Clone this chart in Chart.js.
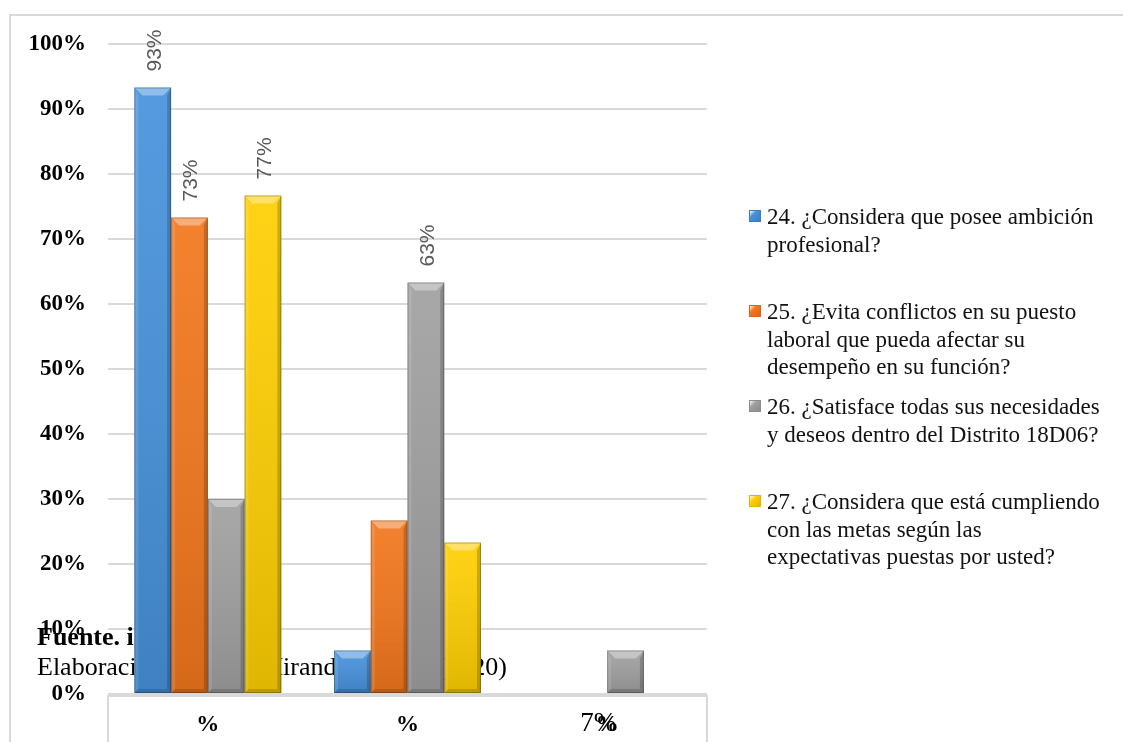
<!DOCTYPE html>
<html>
<head>
<meta charset="utf-8">
<script src="https://cdn.jsdelivr.net/npm/chart.js@4/dist/chart.umd.min.js"></script>
<style>
  body { margin: 0; background: #fff; }
  #wrap { position: relative; width: 1123px; height: 742px; overflow: hidden; }
  #legend { position: absolute; left: 749px; top: 203px; font-family: "Liberation Serif", "Times New Roman", serif; font-size: 23px; line-height: 27.5px; color: #111; }
  .item { position: relative; height: 95px; white-space: nowrap; }
  .swatch { position: absolute; left: 0; top: 7px; width: 12px; height: 12px; box-sizing: border-box; }
  .text { position: absolute; left: 18px; top: 0; }
</style>
</head>
<body>
<div id="wrap">
  <canvas id="my-chart" width="1123" height="742"></canvas>
  <div id="legend"></div>
</div>
<script>
const categories = ["%", "%", "%"];

const names = [
  ["24. ¿Considera que posee ambición", "profesional?"],
  ["25. ¿Evita conflictos en su puesto", "laboral que pueda afectar su", "desempeño en su función?"],
  ["26. ¿Satisface todas sus necesidades", "y deseos dentro del Distrito 18D06?"],
  ["27. ¿Considera que está cumpliendo", "con las metas según las", "expectativas puestas por usted?"],
];

const ambicion = [93.3, 6.7, 0];
const conflictos = [73.3, 26.7, 0];
const satisface = [30.0, 63.3, 6.7];
const metas = [76.7, 23.3, 0];

// which bars carry a value label in the original
const showAmbicion = [true, false, false];
const showConflictos = [true, false, false];
const showSatisface = [false, true, false];
const showMetas = [true, false, false];

const yTicks = [0, 10, 20, 30, 40, 50, 60, 70, 80, 90, 100];

const colors = ["#4792dc", "#f2771d", "#a0a0a0", "#fecf02"];
const swatchColors = ["#3a7fc4", "#d9661c", "#8c8c8c", "#e3b400"];

const serif = '"Liberation Serif", "Times New Roman", serif';

// frame, x axis box and the stray document text behind the bars
const backdrop = {
  id: "backdrop",
  beforeDraw(chart) {
    const ctx = chart.ctx;
    ctx.save();
    ctx.strokeStyle = "#d9d9d9";
    ctx.lineWidth = 2;
    ctx.beginPath();
    ctx.moveTo(10, chart.height);
    ctx.lineTo(10, 15);
    ctx.lineTo(chart.width, 15);
    ctx.stroke();
    ctx.restore();
  },
  beforeDatasetsDraw(chart) {
    const ctx = chart.ctx;
    const area = chart.chartArea;
    ctx.save();
    ctx.strokeStyle = "#d9d9d9";
    ctx.lineWidth = 2;
    ctx.beginPath();
    ctx.moveTo(area.left, chart.height);
    ctx.lineTo(area.left, area.bottom + 2);
    ctx.lineTo(area.right, area.bottom + 2);
    ctx.lineTo(area.right, chart.height);
    ctx.stroke();

    ctx.fillStyle = "#000";
    ctx.textBaseline = "alphabetic";
    ctx.font = "bold 26px " + serif;
    ctx.textAlign = "left";
    ctx.fillText("Fuente. i", 37, 645);
    ctx.font = "26px " + serif;
    ctx.fillText("Elaboración:", 37, 675);
    ctx.fillText("Miranda", 260, 675);
    ctx.textAlign = "right";
    ctx.fillText("(2020)", 507, 675);
    ctx.restore();
  },
  afterDraw(chart) {
    const ctx = chart.ctx;
    const x = chart.scales.x.getPixelForValue(2);
    ctx.save();
    ctx.fillStyle = "#000";
    ctx.font = "27px " + serif;
    ctx.textAlign = "left";
    ctx.fillText("7%", x - 27, 731);
    ctx.restore();
  },
};

// bevel shading and rotated value labels
const bevel = {
  id: "bevel",
  afterDatasetsDraw(chart) {
    const ctx = chart.ctx;
    chart.data.datasets.forEach(function (ds, i) {
      const meta = chart.getDatasetMeta(i);
      meta.data.forEach(function (bar, j) {
        const p = bar.getProps(["x", "y", "base", "width"], true);
        const h = p.base - p.y;
        if (h < 1) return;
        const x0 = p.x - p.width / 2;
        const x1 = p.x + p.width / 2;
        const b = Math.min(8, h / 2);
        ctx.save();

        const g = ctx.createLinearGradient(0, p.y, 0, p.base);
        g.addColorStop(0, "rgba(255,255,255,0.08)");
        g.addColorStop(1, "rgba(0,0,0,0.12)");
        ctx.fillStyle = g;
        ctx.fillRect(x0, p.y, p.width, h);

        ctx.fillStyle = "rgba(255,255,255,0.35)";
        ctx.beginPath();
        ctx.moveTo(x0, p.y);
        ctx.lineTo(x1, p.y);
        ctx.lineTo(x1 - b, p.y + b);
        ctx.lineTo(x0 + b, p.y + b);
        ctx.closePath();
        ctx.fill();

        ctx.fillStyle = "rgba(255,255,255,0.12)";
        ctx.beginPath();
        ctx.moveTo(x0, p.y);
        ctx.lineTo(x0 + 4, p.y + b);
        ctx.lineTo(x0 + 4, p.base - 4);
        ctx.lineTo(x0, p.base);
        ctx.closePath();
        ctx.fill();

        ctx.fillStyle = "rgba(0,0,0,0.18)";
        ctx.beginPath();
        ctx.moveTo(x1, p.y);
        ctx.lineTo(x1 - 4, p.y + b);
        ctx.lineTo(x1 - 4, p.base - 4);
        ctx.lineTo(x1, p.base);
        ctx.closePath();
        ctx.fill();

        ctx.fillStyle = "rgba(0,0,0,0.15)";
        ctx.beginPath();
        ctx.moveTo(x0, p.base);
        ctx.lineTo(x1, p.base);
        ctx.lineTo(x1 - 4, p.base - 4);
        ctx.lineTo(x0 + 4, p.base - 4);
        ctx.closePath();
        ctx.fill();

        ctx.strokeStyle = "rgba(0,0,0,0.25)";
        ctx.lineWidth = 1;
        ctx.strokeRect(x0 + 0.5, p.y + 0.5, p.width - 1, h - 1);

        if (ds.showLabel[j]) {
          ctx.translate(p.x + 2, p.y - 16);
          ctx.rotate(-Math.PI / 2);
          ctx.fillStyle = "#595959";
          ctx.font = '21px "Liberation Sans", Arial, sans-serif';
          ctx.textAlign = "left";
          ctx.textBaseline = "middle";
          ctx.fillText(Math.round(ds.data[j]) + "%", 0, 0);
        }
        ctx.restore();
      });
    });
  },
};

function makeDataset(i, values, shown) {
  return {
    label: names[i].join(" "),
    data: values,
    showLabel: shown,
    backgroundColor: colors[i],
    borderWidth: 0,
    categoryPercentage: 0.736,
    barPercentage: 1,
  };
}

function renderChart() {
  var ctx = document.getElementById("my-chart").getContext("2d");
  var myChart = new Chart(ctx, {
    type: "bar",
    data: {
      labels: categories,
      datasets: [
        makeDataset(0, ambicion, showAmbicion),
        makeDataset(1, conflictos, showConflictos),
        makeDataset(2, satisface, showSatisface),
        makeDataset(3, metas, showMetas),
      ],
    },
    options: {
      responsive: false,
      animation: false,
      devicePixelRatio: 1,
      layout: { padding: { top: 44, right: 416, bottom: 0, left: 0 } },
      plugins: {
        legend: { display: false },
        tooltip: { enabled: false },
      },
      scales: {
        x: {
          grid: { display: false },
          border: { display: false },
          ticks: {
            color: "#000",
            padding: 9,
            font: { family: serif, size: 23, weight: "bold" },
          },
          afterFit(scale) {
            scale.height = 48;
          },
        },
        y: {
          min: 0,
          max: 100,
          afterBuildTicks(scale) {
            scale.ticks = yTicks.map(function (v) { return { value: v }; });
          },
          grid: { color: "#d9d9d9", lineWidth: 2, drawTicks: false },
          border: { display: false },
          ticks: {
            color: "#000",
            padding: 22,
            font: { family: serif, size: 23, weight: "bold" },
            callback: function (v) { return v + "%"; },
          },
          afterFit(scale) {
            scale.width = 108;
          },
        },
      },
    },
    plugins: [backdrop, bevel],
  });
  return myChart;
}

function renderLegend(chart) {
  var box = document.getElementById("legend");
  chart.data.datasets.forEach(function (ds, i) {
    var item = document.createElement("div");
    item.className = "item";
    var sw = document.createElement("div");
    sw.className = "swatch";
    sw.style.background = "linear-gradient(135deg, #fff 0%, " + colors[i] + " 35%, " + swatchColors[i] + " 100%)";
    sw.style.border = "1px solid " + swatchColors[i];
    var txt = document.createElement("div");
    txt.className = "text";
    txt.innerHTML = names[i].join("<br>");
    item.appendChild(sw);
    item.appendChild(txt);
    box.appendChild(item);
  });
}

renderLegend(renderChart());
</script>
</body>
</html>
